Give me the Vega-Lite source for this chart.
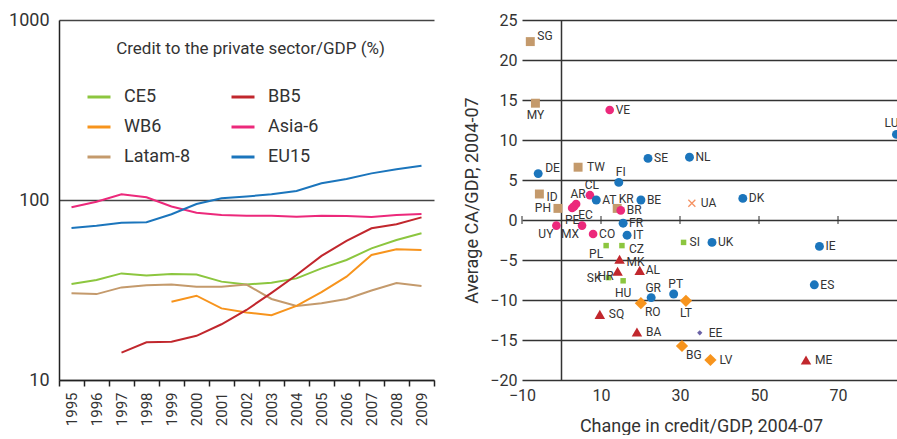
{
  "$schema": "https://vega.github.io/schema/vega-lite/v6.json",
  "padding": {"left": 8, "top": 11, "right": 0, "bottom": 0},
  "background": "white",
  "spacing": 28,
  "resolve": {"scale": {"color": "independent", "shape": "independent", "size": "independent"}, "legend": {"color": "independent"}},
  "config": {
    "font": "Roboto",
    "view": {"stroke": null},
    "axis": {"labelColor": "#333", "titleColor": "#333", "labelFont": "Roboto", "titleFont": "Roboto", "titleFontWeight": "normal", "labelFlush": false}
  },
  "datasets": {
    "credit": [
      {"series": "Asia-6", "year": 1995, "value": 91.1}, {"series": "Asia-6", "year": 1996, "value": 97.9}, {"series": "Asia-6", "year": 1997, "value": 107.6}, {"series": "Asia-6", "year": 1998, "value": 103.5}, {"series": "Asia-6", "year": 1999, "value": 92}, {"series": "Asia-6", "year": 2000, "value": 85}, {"series": "Asia-6", "year": 2001, "value": 82.5}, {"series": "Asia-6", "year": 2002, "value": 81.7}, {"series": "Asia-6", "year": 2003, "value": 81.7}, {"series": "Asia-6", "year": 2004, "value": 80.8}, {"series": "Asia-6", "year": 2005, "value": 81.7}, {"series": "Asia-6", "year": 2006, "value": 81.5}, {"series": "Asia-6", "year": 2007, "value": 80.4}, {"series": "Asia-6", "year": 2008, "value": 82.5}, {"series": "Asia-6", "year": 2009, "value": 83.5},
      {"series": "EU15", "year": 1995, "value": 69.9}, {"series": "EU15", "year": 1996, "value": 71.9}, {"series": "EU15", "year": 1997, "value": 74.8}, {"series": "EU15", "year": 1998, "value": 75.3}, {"series": "EU15", "year": 1999, "value": 83.3}, {"series": "EU15", "year": 2000, "value": 95}, {"series": "EU15", "year": 2001, "value": 102.2}, {"series": "EU15", "year": 2002, "value": 104.6}, {"series": "EU15", "year": 2003, "value": 107.6}, {"series": "EU15", "year": 2004, "value": 112.2}, {"series": "EU15", "year": 2005, "value": 123.8}, {"series": "EU15", "year": 2006, "value": 130.8}, {"series": "EU15", "year": 2007, "value": 140.6}, {"series": "EU15", "year": 2008, "value": 148}, {"series": "EU15", "year": 2009, "value": 155.1},
      {"series": "CE5", "year": 1995, "value": 34.1}, {"series": "CE5", "year": 1996, "value": 35.9}, {"series": "CE5", "year": 1997, "value": 39.1}, {"series": "CE5", "year": 1998, "value": 38.1}, {"series": "CE5", "year": 1999, "value": 38.8}, {"series": "CE5", "year": 2000, "value": 38.5}, {"series": "CE5", "year": 2001, "value": 35.2}, {"series": "CE5", "year": 2002, "value": 33.9}, {"series": "CE5", "year": 2003, "value": 34.7}, {"series": "CE5", "year": 2004, "value": 36.7}, {"series": "CE5", "year": 2005, "value": 41.7}, {"series": "CE5", "year": 2006, "value": 46.4}, {"series": "CE5", "year": 2007, "value": 53.9}, {"series": "CE5", "year": 2008, "value": 60}, {"series": "CE5", "year": 2009, "value": 65.3},
      {"series": "Latam-8", "year": 1995, "value": 30.3}, {"series": "Latam-8", "year": 1996, "value": 30.0}, {"series": "Latam-8", "year": 1997, "value": 32.7}, {"series": "Latam-8", "year": 1998, "value": 33.6}, {"series": "Latam-8", "year": 1999, "value": 33.9}, {"series": "Latam-8", "year": 2000, "value": 33.0}, {"series": "Latam-8", "year": 2001, "value": 33.0}, {"series": "Latam-8", "year": 2002, "value": 33.9}, {"series": "Latam-8", "year": 2003, "value": 28.2}, {"series": "Latam-8", "year": 2004, "value": 25.8}, {"series": "Latam-8", "year": 2005, "value": 26.7}, {"series": "Latam-8", "year": 2006, "value": 28.2}, {"series": "Latam-8", "year": 2007, "value": 31.4}, {"series": "Latam-8", "year": 2008, "value": 34.6}, {"series": "Latam-8", "year": 2009, "value": 33.3},
      {"series": "WB6", "year": 1999, "value": 27.2}, {"series": "WB6", "year": 2000, "value": 29.4}, {"series": "WB6", "year": 2001, "value": 25.0}, {"series": "WB6", "year": 2002, "value": 23.7}, {"series": "WB6", "year": 2003, "value": 22.9}, {"series": "WB6", "year": 2004, "value": 25.8}, {"series": "WB6", "year": 2005, "value": 30.8}, {"series": "WB6", "year": 2006, "value": 37.5}, {"series": "WB6", "year": 2007, "value": 49.5}, {"series": "WB6", "year": 2008, "value": 53.2}, {"series": "WB6", "year": 2009, "value": 52.7},
      {"series": "BB5", "year": 1997, "value": 14.2}, {"series": "BB5", "year": 1998, "value": 16.2}, {"series": "BB5", "year": 1999, "value": 16.3}, {"series": "BB5", "year": 2000, "value": 17.6}, {"series": "BB5", "year": 2001, "value": 20.4}, {"series": "BB5", "year": 2002, "value": 24.5}, {"series": "BB5", "year": 2003, "value": 30.5}, {"series": "BB5", "year": 2004, "value": 38.3}, {"series": "BB5", "year": 2005, "value": 48.9}, {"series": "BB5", "year": 2006, "value": 59.2}, {"series": "BB5", "year": 2007, "value": 69.6}, {"series": "BB5", "year": 2008, "value": 73.3}, {"series": "BB5", "year": 2009, "value": 80.1}
    ],
    "scatter": [
      {"code": "SG", "grp": "Asia-6", "x": -7.9, "y": 22.3},
      {"code": "MY", "grp": "Asia-6", "x": -6.6, "y": 14.6},
      {"code": "TW", "grp": "Asia-6", "x": 4.2, "y": 6.6},
      {"code": "ID", "grp": "Asia-6", "x": -5.6, "y": 3.25},
      {"code": "PH", "grp": "Asia-6", "x": -0.9, "y": 1.45},
      {"code": "KR", "grp": "Asia-6", "x": 14.1, "y": 1.45},
      {"code": "VE", "grp": "Latam-8", "x": 12.2, "y": 13.75},
      {"code": "CL", "grp": "Latam-8", "x": 7.2, "y": 3.1},
      {"code": "AR", "grp": "Latam-8", "x": 3.7, "y": 2.0},
      {"code": "EC", "grp": "Latam-8", "x": 3.2, "y": 1.7},
      {"code": "PE", "grp": "Latam-8", "x": 2.7, "y": 1.5},
      {"code": "BR", "grp": "Latam-8", "x": 15.0, "y": 1.2},
      {"code": "UY", "grp": "Latam-8", "x": -1.3, "y": -0.7},
      {"code": "MX", "grp": "Latam-8", "x": 5.2, "y": -0.7},
      {"code": "CO", "grp": "Latam-8", "x": 8.0, "y": -1.75},
      {"code": "DE", "grp": "EU15", "x": -5.9, "y": 5.8},
      {"code": "SE", "grp": "EU15", "x": 21.9, "y": 7.7},
      {"code": "NL", "grp": "EU15", "x": 32.4, "y": 7.85},
      {"code": "FI", "grp": "EU15", "x": 14.5, "y": 4.7},
      {"code": "AT", "grp": "EU15", "x": 8.8, "y": 2.5},
      {"code": "BE", "grp": "EU15", "x": 20.1, "y": 2.5},
      {"code": "FR", "grp": "EU15", "x": 15.6, "y": -0.4},
      {"code": "IT", "grp": "EU15", "x": 16.6, "y": -1.9},
      {"code": "UK", "grp": "EU15", "x": 38.1, "y": -2.8},
      {"code": "GR", "grp": "EU15", "x": 22.7, "y": -9.7},
      {"code": "PT", "grp": "EU15", "x": 28.4, "y": -9.25},
      {"code": "DK", "grp": "EU15", "x": 45.9, "y": 2.7},
      {"code": "IE", "grp": "EU15", "x": 65.3, "y": -3.3},
      {"code": "ES", "grp": "EU15", "x": 64.0, "y": -8.1},
      {"code": "LU", "grp": "EU15", "x": 84.8, "y": 10.7},
      {"code": "PL", "grp": "CE5", "x": 11.3, "y": -3.2},
      {"code": "CZ", "grp": "CE5", "x": 15.3, "y": -3.2},
      {"code": "SI", "grp": "CE5", "x": 30.9, "y": -2.8},
      {"code": "SK", "grp": "CE5", "x": 11.9, "y": -7.2},
      {"code": "HU", "grp": "CE5", "x": 15.6, "y": -7.6},
      {"code": "MK", "grp": "WB6", "x": 14.7, "y": -4.9},
      {"code": "HR", "grp": "WB6", "x": 14.2, "y": -6.4},
      {"code": "AL", "grp": "WB6", "x": 19.8, "y": -6.3},
      {"code": "SQ", "grp": "WB6", "x": 9.7, "y": -11.8},
      {"code": "BA", "grp": "WB6", "x": 19.1, "y": -14.0},
      {"code": "ME", "grp": "WB6", "x": 61.9, "y": -17.5},
      {"code": "RO", "grp": "BB5", "x": 20.1, "y": -10.4},
      {"code": "LT", "grp": "BB5", "x": 31.5, "y": -10.1},
      {"code": "BG", "grp": "BB5", "x": 30.5, "y": -15.75},
      {"code": "LV", "grp": "BB5", "x": 37.7, "y": -17.5},
      {"code": "EE", "grp": "EE", "x": 35.0, "y": -14.1},
      {"code": "UA", "grp": "UA", "x": 33.0, "y": 2.1}
    ],
    "xticks": [{"x": -10}, {"x": 10}, {"x": 30}, {"x": 50}, {"x": 70}]
  },
  "hconcat": [
    {
      "width": 375,
      "height": 360,
      "data": {"name": "credit"},
      "title": {"text": "Credit to the private sector/GDP (%)", "fontSize": 17, "fontWeight": "normal", "color": "#333", "anchor": "middle", "frame": "group", "offset": -47, "dx": 4},
      "mark": {"type": "line", "strokeWidth": 2},
      "encoding": {
        "x": {
          "field": "year", "type": "ordinal", "bandPosition": 0.5,
          "scale": {"type": "band", "paddingInner": 0, "paddingOuter": 0},
          "axis": {"title": null, "labelAngle": -90, "labelFontSize": 15, "tickBand": "extent", "tickColor": "#222", "domainColor": "#222", "domainWidth": 1.5, "tickWidth": 1.5, "tickSize": 6, "labelPadding": 6, "grid": false}
        },
        "y": {
          "field": "value", "type": "quantitative",
          "scale": {"type": "log", "domain": [10, 1000]},
          "axis": {"title": null, "values": [10, 100, 1000], "format": "d", "grid": true, "gridColor": "#444", "gridWidth": 1.5, "ticks": false, "domain": true, "domainColor": "#222", "domainWidth": 1.5, "labelFontSize": 18, "labelPadding": 10}
        },
        "color": {
          "field": "series", "type": "nominal",
          "scale": {"domain": ["CE5", "WB6", "Latam-8", "BB5", "Asia-6", "EU15"], "range": ["#8cc63f", "#f7941d", "#c49a6c", "#c1272d", "#ec297b", "#1b75bc"]},
          "legend": {"title": null, "orient": "none", "legendX": 27, "legendY": 64, "columns": 2, "symbolType": "stroke", "symbolSize": 529, "symbolStrokeWidth": 3, "labelFontSize": 18, "labelColor": "#333", "labelOffset": 12, "rowPadding": 8, "columnPadding": 34}
        }
      }
    },
    {
      "width": 380,
      "height": 360,
      "layer": [
        {
          "data": {"name": "xticks"},
          "mark": {"type": "tick", "orient": "vertical", "color": "#333", "size": 8, "thickness": 1.5},
          "encoding": {
            "x": {"field": "x", "type": "quantitative", "scale": {"domain": [-10, 86.2], "nice": false, "zero": false},
              "axis": {"title": "Change in credit/GDP, 2004-07", "values": [-10, 10, 30, 50, 70], "grid": false, "domain": false, "ticks": false, "labelFontSize": 16, "labelPadding": 7, "titleFontSize": 18, "titlePadding": 14, "titleX": 179}},
            "y": {"datum": 0, "type": "quantitative", "scale": {"domain": [-20, 25], "nice": false, "zero": false},
              "axis": {"title": "Average CA/GDP, 2004-07", "values": [-20, -15, -10, -5, 0, 5, 10, 15, 20, 25], "tickCount": 10, "grid": true, "gridColor": "#333", "gridWidth": 1.5, "domain": false, "ticks": false, "labelFontSize": 16, "labelPadding": 5, "titleFontSize": 18, "titlePadding": 8, "labelOverlap": false}}
          }
        },
        {
          "data": {"values": [{"k": 0}]},
          "mark": {"type": "rule", "color": "#333", "strokeWidth": 1.5},
          "encoding": {"x": {"datum": 0, "type": "quantitative"}}
        },
        {
          "data": {"name": "scatter"},
          "transform": [{"filter": "datum.grp != 'UA'"}],
          "mark": {"type": "point", "filled": true, "opacity": 1},
          "encoding": {
            "x": {"field": "x", "type": "quantitative"},
            "y": {"field": "y", "type": "quantitative"},
            "color": {"field": "grp", "type": "nominal", "legend": null,
              "scale": {"domain": ["EU15", "Asia-6", "Latam-8", "CE5", "BB5", "WB6", "EE"], "range": ["#1b75bc", "#c49a6c", "#ec297b", "#8cc63f", "#f7941d", "#c1272d", "#6b63a6"]}},
            "shape": {"field": "grp", "type": "nominal", "legend": null,
              "scale": {"domain": ["EU15", "Asia-6", "Latam-8", "CE5", "BB5", "WB6", "EE"], "range": ["circle", "square", "circle", "square", "diamond", "triangle-up", "diamond"]}},
            "size": {"field": "grp", "type": "ordinal", "legend": null,
              "scale": {"type": "ordinal", "domain": ["EU15", "Asia-6", "Latam-8", "CE5", "BB5", "WB6", "EE"], "range": [80, 80, 75, 30, 150, 110, 28]}}
          }
        },
        {
          "data": {"name": "scatter"},
          "transform": [{"filter": "datum.grp == 'UA'"}],
          "mark": {"type": "point", "filled": false, "shape": "M-1,-1L1,1M-1,1L1,-1", "size": 49, "color": "#f26522", "strokeWidth": 1.3},
          "encoding": {"x": {"field": "x", "type": "quantitative"}, "y": {"field": "y", "type": "quantitative"}}
        },
        {
          "data": {"name": "scatter"},
          "transform": [{"filter": {"field": "code", "oneOf": ["VE", "NL", "UK", "DK", "AL", "SI", "SE", "BE", "FR", "BR", "IT", "CO", "IE", "ES", "AT"]}}],
          "mark": {"type": "text", "align": "left", "baseline": "middle", "dx": 6, "dy": 0, "fontSize": 12, "color": "#333"},
          "encoding": {"x": {"field": "x", "type": "quantitative"}, "y": {"field": "y", "type": "quantitative"}, "text": {"field": "code"}}
        },
        {
          "data": {"name": "scatter"},
          "transform": [{"filter": {"field": "code", "oneOf": ["LV", "ME", "BA", "SQ", "EE", "UA", "TW"]}}],
          "mark": {"type": "text", "align": "left", "baseline": "middle", "dx": 9, "dy": 0, "fontSize": 12, "color": "#333"},
          "encoding": {"x": {"field": "x", "type": "quantitative"}, "y": {"field": "y", "type": "quantitative"}, "text": {"field": "code"}}
        },
        {
          "data": {"name": "scatter"},
          "transform": [{"filter": {"field": "code", "oneOf": ["SG", "DE"]}}],
          "mark": {"type": "text", "align": "left", "baseline": "middle", "dx": 7, "dy": -6, "fontSize": 12, "color": "#333"},
          "encoding": {"x": {"field": "x", "type": "quantitative"}, "y": {"field": "y", "type": "quantitative"}, "text": {"field": "code"}}
        },
        {
          "data": {"name": "scatter"},
          "transform": [{"filter": {"field": "code", "oneOf": ["ID", "CZ", "MK"]}}],
          "mark": {"type": "text", "align": "left", "baseline": "middle", "dx": 7, "dy": 3, "fontSize": 12, "color": "#333"},
          "encoding": {"x": {"field": "x", "type": "quantitative"}, "y": {"field": "y", "type": "quantitative"}, "text": {"field": "code"}}
        },
        {
          "data": {"name": "scatter"},
          "transform": [{"filter": {"field": "code", "oneOf": ["FI", "CL", "AR", "GR", "PT"]}}],
          "mark": {"type": "text", "align": "center", "baseline": "middle", "dx": 2, "dy": -10, "fontSize": 12, "color": "#333"},
          "encoding": {"x": {"field": "x", "type": "quantitative"}, "y": {"field": "y", "type": "quantitative"}, "text": {"field": "code"}}
        },
        {
          "data": {"name": "scatter"},
          "transform": [{"filter": {"field": "code", "oneOf": ["KR"]}}],
          "mark": {"type": "text", "align": "center", "baseline": "middle", "dx": 9, "dy": -9, "fontSize": 12, "color": "#333"},
          "encoding": {"x": {"field": "x", "type": "quantitative"}, "y": {"field": "y", "type": "quantitative"}, "text": {"field": "code"}}
        },
        {
          "data": {"name": "scatter"},
          "transform": [{"filter": {"field": "code", "oneOf": ["LU"]}}],
          "mark": {"type": "text", "align": "center", "baseline": "middle", "dx": -5, "dy": -11, "fontSize": 12, "color": "#333"},
          "encoding": {"x": {"field": "x", "type": "quantitative"}, "y": {"field": "y", "type": "quantitative"}, "text": {"field": "code"}}
        },
        {
          "data": {"name": "scatter"},
          "transform": [{"filter": {"field": "code", "oneOf": ["MY", "HU", "LT", "PE"]}}],
          "mark": {"type": "text", "align": "center", "baseline": "middle", "dx": 0, "dy": 12, "fontSize": 12, "color": "#333"},
          "encoding": {"x": {"field": "x", "type": "quantitative"}, "y": {"field": "y", "type": "quantitative"}, "text": {"field": "code"}}
        },
        {
          "data": {"name": "scatter"},
          "transform": [{"filter": {"field": "code", "oneOf": ["RO", "BG", "EC"]}}],
          "mark": {"type": "text", "align": "left", "baseline": "middle", "dx": 4, "dy": 9, "fontSize": 12, "color": "#333"},
          "encoding": {"x": {"field": "x", "type": "quantitative"}, "y": {"field": "y", "type": "quantitative"}, "text": {"field": "code"}}
        },
        {
          "data": {"name": "scatter"},
          "transform": [{"filter": {"field": "code", "oneOf": ["PH", "SK"]}}],
          "mark": {"type": "text", "align": "right", "baseline": "middle", "dx": -7, "dy": 0, "fontSize": 12, "color": "#333"},
          "encoding": {"x": {"field": "x", "type": "quantitative"}, "y": {"field": "y", "type": "quantitative"}, "text": {"field": "code"}}
        },
        {
          "data": {"name": "scatter"},
          "transform": [{"filter": {"field": "code", "oneOf": ["UY", "PL", "MX"]}}],
          "mark": {"type": "text", "align": "right", "baseline": "middle", "dx": -3, "dy": 8, "fontSize": 12, "color": "#333"},
          "encoding": {"x": {"field": "x", "type": "quantitative"}, "y": {"field": "y", "type": "quantitative"}, "text": {"field": "code"}}
        },
        {
          "data": {"name": "scatter"},
          "transform": [{"filter": {"field": "code", "oneOf": ["HR"]}}],
          "mark": {"type": "text", "align": "right", "baseline": "middle", "dx": -4, "dy": 5, "fontSize": 12, "color": "#333"},
          "encoding": {"x": {"field": "x", "type": "quantitative"}, "y": {"field": "y", "type": "quantitative"}, "text": {"field": "code"}}
        }
      ]
    }
  ]
}
